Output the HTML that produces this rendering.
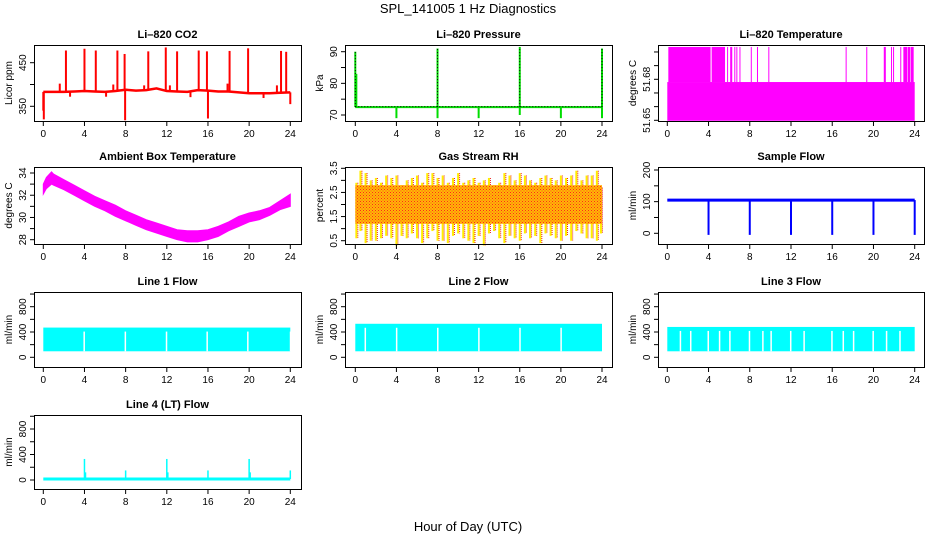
<!DOCTYPE html>
<html><head><meta charset="utf-8"><style>
html,body{margin:0;padding:0;background:#fff}
svg{display:block;font-family:"Liberation Sans",sans-serif}
</style></head><body>
<svg id="c" width="936" height="540" viewBox="0 0 936 540">
<text x="468" y="13" text-anchor="middle" font-size="13">SPL_141005  1 Hz Diagnostics</text>
<text x="468" y="531" text-anchor="middle" font-size="13">Hour of Day (UTC)</text>
</svg>
<script>
// ---- data ----
const hourTicks=[0,4,8,12,16,20,24];
const co2BaseT=[0,1,2,3,4,5,6,7,8,9,10,11,12,13,14,15,16,17,18,19,20,21,22,23,24];
const co2BaseV=[383,383,383,384,385,384,383,385,388,386,387,391,385,384,383,387,386,384,384,382,380,380,380,381,382];
const co2SpikeT=[2.2,4.0,5.1,7.2,7.9,10.2,11.9,13.0,15.1,15.9,18.1,19.9,23.1,23.6,1.6,6.8,9.8,12.3,17.9,22.7,0.05,7.95,16.0,0.0,24.0,2.6,6.1,14.3,21.4];
const co2SpikeV=[478,482,478,478,470,476,485,476,478,476,477,483,477,475,402,400,398,398,402,398,320,318,322,340,355,372,372,371,369];
const presBase=72.5;
const presSpikeT=[0,0.1,8,16,24,4,8,12,16,20,24];
const presSpikeV=[90,83,91,91.5,91,69,69,69,70,69,69];
const tempLow=51.65, tempMid=51.678, tempHigh=51.70;
const tempHighSeg=[[0.1,4.2],[4.3,5.6],[5.8,5.85],[6.1,6.3],[6.5,6.55],[6.7,6.75],[7.0,7.05],[8.1,8.15],[8.7,8.8],[9.8,9.85],[17.3,17.35],[19.3,19.4],[21.0,21.2],[21.7,21.75],[21.9,21.95],[22.6,22.65],[22.9,23.3],[23.35,23.55],[23.6,23.9]];
const ambT=[0,0.3,0.8,1,2,3,4,5,6,7,8,9,10,11,12,13,14,15,16,17,18,19,20,21,22,23,24];
const ambHi=[33.0,33.6,34.1,33.9,33.4,32.9,32.4,31.9,31.5,31.1,30.6,30.2,29.8,29.5,29.2,28.9,28.8,28.8,28.9,29.2,29.6,30.1,30.4,30.6,30.9,31.5,32.1];
const ambLo=[32.1,32.6,33.0,32.9,32.5,32.0,31.5,31.0,30.6,30.1,29.7,29.3,28.9,28.6,28.3,28.0,27.8,27.8,28.0,28.3,28.8,29.2,29.6,29.8,30.2,30.7,31.0];
const rhBandLo=1.2, rhBandHi=2.8;
const rhSpikeT=[0.1,0.5,1.0,1.5,2.0,2.5,3.0,3.5,4.0,4.5,5.0,5.5,6.0,6.5,7.0,7.5,8.0,8.5,9.0,9.5,10.0,10.5,11.0,11.5,12.0,12.5,13.0,13.5,14.0,14.5,15.0,15.5,16.0,16.5,17.0,17.5,18.0,18.5,19.0,19.5,20.0,20.5,21.0,21.5,22.0,22.5,23.0,23.5,23.9];
const rhSpikeHi=[2.9,3.4,3.3,3.0,3.1,2.9,3.2,3.1,3.2,2.8,3.0,3.1,3.2,2.9,3.3,3.3,3.1,3.2,2.9,3.1,3.3,2.9,3.0,3.1,2.9,3.0,3.1,2.8,2.9,3.3,3.2,3.0,3.3,3.2,3.0,2.9,3.1,3.2,3.1,3.0,3.2,3.1,3.2,3.4,3.0,3.2,3.2,3.4,2.7];
const rhSpikeLo=[0.6,0.9,0.4,0.5,0.5,0.6,0.7,0.6,0.3,0.7,0.6,0.8,0.6,0.4,0.6,0.9,0.5,0.5,0.4,0.7,0.8,0.6,0.5,0.4,0.7,0.3,0.8,0.9,0.6,0.4,0.7,0.6,0.5,0.8,0.6,0.7,0.4,0.8,0.7,0.6,0.5,0.7,0.5,0.9,0.8,0.6,0.6,0.5,0.8];
const flowBase=105;
const flowDipT=[4,8,12,16,20,24];
const flowDipV=[-5,-5,-5,-5,-5,-5];
const line1Band=[95,470], line2Band=[95,530], line3Band=[95,480];
const line1Gaps=[3.9,7.9,11.9,15.85,19.8,23.95];
const line2Gaps=[0.9,3.95,7.95,11.95,15.95,19.95];
const line3Gaps=[1.2,2.2,3.9,5.0,6.0,7.9,9.2,10.0,11.9,13.2,15.9,17.0,18.0,19.9,21.2,22.5];
const line4Base=15;
const line4SpikeT=[4,4.1,8,12,12.1,16,20,20.1,24];
const line4SpikeV=[330,120,150,330,120,150,330,120,150];

// ---- layout ----
const NS="http://www.w3.org/2000/svg";
const svg=document.getElementById('c');
const cols=[{l:34,r:301,x0:43.3,x24:290.3},{l:345,r:612,x0:355.3,x24:602},{l:658,r:924,x0:667.3,x24:914.7}];
const rows=[{t:45,b:121},{t:167,b:244},{t:292,b:367},{t:415,b:489}];
function el(tag,attrs,parent){const e=document.createElementNS(NS,tag);for(const k in attrs)e.setAttribute(k,attrs[k]);(parent||svg).appendChild(e);return e;}
function panel(name,title,ylab,col,row,yA,pA,yB,pB,ticks,labels){
  const c=cols[col],r=rows[row];
  const g=el('g',{});
  
  
  const xs=h=>c.x0+(c.x24-c.x0)*h/24;
  const ys=v=>pA+(pB-pA)*(v-yA)/(yB-yA);
  const t=el('text',{x:(c.l+c.r)/2,y:r.t-7,'text-anchor':'middle','font-size':11,'font-weight':'bold'},g);
  t.textContent=title;
  
  
  const yl=el('text',{transform:`translate(${c.l-22},${(r.t+r.b)/2}) rotate(-90)`,'text-anchor':'middle','font-size':10},g);
  yl.textContent=ylab;
  
  
  const marks=el('g',{},g);
  
  
  const ax=el('g',{stroke:'#000','stroke-width':1,fill:'none'});
  
  
  el('rect',{x:c.l+.5,y:r.t+.5,width:c.r-c.l,height:r.b-r.t},ax);
  hourTicks.forEach(h=>{
    const x=xs(h);
    el('line',{x1:x,x2:x,y1:r.b,y2:r.b+5},ax);
    const tl=el('text',{x:x,y:r.b+16,'text-anchor':'middle','font-size':10,fill:'#000',stroke:'none'});
    tl.textContent=h;
    
    
  });
  el('line',{x1:xs(0),x2:xs(24),y1:r.b+.5,y2:r.b+.5},ax);
  ticks.forEach((v,i)=>{
    const y=ys(v);
    el('line',{x1:c.l-4,x2:c.l,y1:y,y2:y},ax);
    if(labels[i]!==''){
      const tl=el('text',{transform:`translate(${c.l-8},${y}) rotate(-90)`,'text-anchor':'middle','font-size':10,fill:'#000',stroke:'none'});
      tl.textContent=labels[i];
      
      
    }
  });
  return {g:marks,xs,ys,c,r};
}

// CO2
(function(){
  const p=panel('co2-panel','Li\u2013820 CO2','Licor ppm',0,0,450,62.7,350,106.3,[350,400,450],['350','','450']);
  let d=co2BaseT.map((t,i)=>(i?'L':'M')+p.xs(t)+' '+p.ys(co2BaseV[i])).join(' ');
  el('path',{d,stroke:'#f00','stroke-width':2.5,fill:'none'},p.g);
  co2SpikeT.forEach((t,i)=>{
    const b=co2BaseV[Math.round(t)];
    el('line',{x1:p.xs(t),x2:p.xs(t),y1:p.ys(b),y2:p.ys(co2SpikeV[i]),stroke:'#f00','stroke-width':2},p.g);
  });
})();
// Pressure
(function(){
  const p=panel('pressure-panel','Li\u2013820 Pressure','kPa',1,0,90,51.7,70,115,[70,75,80,85,90],['70','','80','','90']);
  el('line',{x1:p.xs(0),x2:p.xs(24),y1:p.ys(presBase),y2:p.ys(presBase),stroke:'#0d0','stroke-width':2},p.g);
  presSpikeT.forEach((t,i)=>{
    el('line',{x1:p.xs(t),x2:p.xs(t),y1:p.ys(presBase),y2:p.ys(presSpikeV[i]),stroke:'#0d0','stroke-width':2},p.g);
  });
  el('line',{x1:p.xs(0),x2:p.xs(24),y1:p.ys(presBase)-.5,y2:p.ys(presBase)-.5,stroke:'#000','stroke-width':1,'stroke-dasharray':'1 2'},p.g);
  [0,8,16,24].forEach(t=>el('line',{x1:p.xs(t),x2:p.xs(t),y1:p.ys(presBase),y2:p.ys(presSpikeV[presSpikeT.indexOf(t)]),stroke:'#000','stroke-width':1,'stroke-dasharray':'1 2'},p.g));
})();
// Li-820 temperature
(function(){
  const p=panel('temperature-panel','Li\u2013820 Temperature','degrees C',2,0,51.68,79.3,51.65,120.3,[51.65,51.66,51.67,51.68,51.69,51.70],['51.65','','','51.68','','']);
  el('rect',{x:p.xs(0),y:p.ys(tempMid),width:p.xs(24)-p.xs(0),height:p.ys(tempLow)-p.ys(tempMid)+.5,fill:'#f0f'},p.g);
  tempHighSeg.forEach(s=>{
    el('rect',{x:p.xs(s[0]),y:p.ys(tempHigh)-5,width:Math.max(1,p.xs(s[1])-p.xs(s[0])),height:p.ys(tempMid)-p.ys(tempHigh)+5,fill:'#f0f'},p.g);
  });
})();
// Ambient
(function(){
  const p=panel('ambient-temp-panel','Ambient Box Temperature','degrees C',0,1,34,173,28,239.7,[28,29,30,31,32,33,34],['28','','30','','32','','34']);
  let d=ambT.map((t,i)=>(i?'L':'M')+p.xs(t)+' '+p.ys(ambHi[i])).join(' ');
  d+=ambT.slice().reverse().map((t,i)=>'L'+p.xs(t)+' '+p.ys(ambLo[ambT.length-1-i])).join(' ')+'Z';
  el('path',{d,fill:'#f0f',stroke:'#f0f','stroke-width':1},p.g);
})();
// RH
(function(){
  const p=panel('rh-panel','Gas Stream RH','percent',1,1,3.5,168.3,0.5,240.7,[0.5,1,1.5,2,2.5,3,3.5],['0.5','','1.5','','2.5','','3.5']);
  const defs=el('defs',{},p.g);
  const pat=el('pattern',{id:'rhpat',width:3,height:3,patternUnits:'userSpaceOnUse'},defs);
  el('rect',{width:3,height:3,fill:'#fb0'},pat);
  el('rect',{x:0,y:0,width:1,height:1,fill:'#f22'},pat);
  el('rect',{x:1.5,y:1.5,width:1,height:1,fill:'#f33'},pat);
  rhSpikeT.forEach((t,i)=>{
    const x=p.xs(t);
    el('line',{x1:x,x2:x,y1:p.ys(rhSpikeHi[i]),y2:p.ys(rhSpikeLo[i]),stroke:'#fe0','stroke-width':2},p.g);
    el('line',{x1:x+1.5,x2:x+1.5,y1:p.ys(rhSpikeHi[i]),y2:p.ys(rhSpikeLo[i]),stroke:'#e22','stroke-width':1,'stroke-dasharray':'1 1'},p.g);
  });
  el('rect',{x:p.xs(0),y:p.ys(rhBandHi),width:p.xs(24)-p.xs(0),height:p.ys(rhBandLo)-p.ys(rhBandHi),fill:'url(#rhpat)'},p.g);
})();
// Sample flow
(function(){
  const p=panel('sample-flow-panel','Sample Flow','ml/min',2,1,200,170,0,233.3,[0,50,100,150,200],['0','','100','','200']);
  el('line',{x1:p.xs(0),x2:p.xs(24),y1:p.ys(flowBase),y2:p.ys(flowBase),stroke:'#00f','stroke-width':3},p.g);
  flowDipT.forEach((t,i)=>el('line',{x1:p.xs(t),x2:p.xs(t),y1:p.ys(flowBase),y2:p.ys(flowDipV[i]),stroke:'#00f','stroke-width':2},p.g));
})();
// Line flows
function lineFlow(name,title,col,row,band,gaps){
  const p=panel(name,title,'ml/min',col,row,800,306.7,0,357.3,[0,200,400,600,800,1000],['0','','400','','800','']);
  el('rect',{x:p.xs(0),y:p.ys(band[1]),width:p.xs(24)-p.xs(0),height:p.ys(band[0])-p.ys(band[1]),fill:'#0ff'},p.g);
  gaps.forEach(t=>el('rect',{x:p.xs(t),y:p.ys(band[1])+4,width:1.5,height:p.ys(band[0])-p.ys(band[1])-4,fill:'#fff'},p.g));
  return p;
}
lineFlow('line1-flow-panel','Line 1 Flow',0,2,line1Band,line1Gaps);
lineFlow('line2-flow-panel','Line 2 Flow',1,2,line2Band,line2Gaps);
lineFlow('line3-flow-panel','Line 3 Flow',2,2,line3Band,line3Gaps);
// Line 4
(function(){
  const p=panel('line4-flow-panel','Line 4 (LT) Flow','ml/min',0,3,800,429,0,480,[0,200,400,600,800,1000],['0','','400','','800','']);
  el('line',{x1:p.xs(0),x2:p.xs(24),y1:p.ys(line4Base),y2:p.ys(line4Base),stroke:'#0ff','stroke-width':3},p.g);
  line4SpikeT.forEach((t,i)=>el('line',{x1:p.xs(t),x2:p.xs(t),y1:p.ys(line4Base),y2:p.ys(line4SpikeV[i]),stroke:'#0ff','stroke-width':1.5},p.g));
})();
</script>
</body></html>
